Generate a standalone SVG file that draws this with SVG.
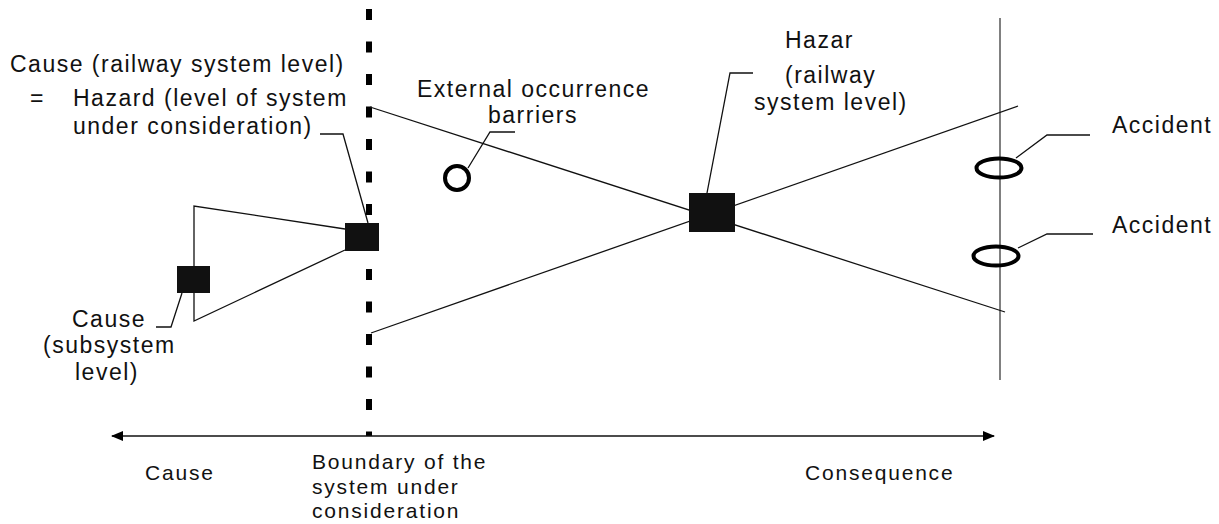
<svg xmlns="http://www.w3.org/2000/svg" width="1219" height="524" viewBox="0 0 1219 524">
<style>
.t{font-family:"Liberation Sans",Arial,sans-serif;font-size:23px;letter-spacing:1.5px;fill:#111}
.b{font-family:"Liberation Sans",Arial,sans-serif;font-size:21px;letter-spacing:1.8px;fill:#111}
.ln{stroke:#111;stroke-width:1.3;fill:none}
.node{fill:#111}
.ring{fill:none;stroke:#000;stroke-width:4}
</style>
<defs>
<marker id="ah" viewBox="0 0 12 10" refX="11" refY="5" markerWidth="12" markerHeight="10" markerUnits="userSpaceOnUse" orient="auto-start-reverse">
<path d="M0,0 L12,5 L0,10 Z" fill="#000"/>
</marker>
</defs>
<g id="boundary">
<line x1="369" y1="9" x2="369" y2="436" stroke="#000" stroke-width="6" stroke-dasharray="11 21.5"/>
</g>
<g id="consequence-axis">
<line x1="1000" y1="18" x2="1000" y2="380" stroke="#808080" stroke-width="2"/>
</g>
<g id="connectors">
<line class="ln" x1="112" y1="436" x2="994" y2="436" marker-start="url(#ah)" marker-end="url(#ah)"/>
<line class="ln" x1="371" y1="333" x2="1018" y2="106"/>
<line class="ln" x1="370" y1="107" x2="1005" y2="312"/>
<polyline class="ln" points="345,229 194,206 194,321 345,250"/>
<polyline class="ln" points="320,134 343,134 368,223"/>
<polyline class="ln" points="182,293 171,327 156,327"/>
<polyline class="ln" points="707,193 730,73 753,73"/>
<polyline class="ln" points="468,168 490,132 515,132"/>
<polyline class="ln" points="1016,158 1047,135 1090,135"/>
<polyline class="ln" points="1018,248 1047,234 1093,234"/>
</g>
<g id="hazard-system">
<rect class="node" x="345" y="223" width="34" height="28"/>
<text class="t" x="10" y="72">Cause (railway system level)</text>
<text class="t" x="30" y="106">=</text>
<text class="t" x="73" y="106">Hazard (level of system</text>
<text class="t" x="73" y="134">under consideration)</text>
</g>
<g id="cause-subsystem">
<rect class="node" x="177" y="266" width="33" height="27"/>
<text class="t" x="72" y="327">Cause</text>
<text class="t" x="43" y="353">(subsystem</text>
<text class="t" x="75" y="380">level)</text>
</g>
<g id="hazard-railway">
<rect class="node" x="689" y="193" width="46" height="39"/>
<text class="t" x="785" y="48">Hazar</text>
<text class="t" x="785" y="83">(railway</text>
<text class="t" x="754" y="110">system level)</text>
</g>
<g id="barrier">
<circle class="ring" cx="457" cy="178" r="12"/>
<text class="t" x="417" y="97">External occurrence</text>
<text class="t" x="488" y="123">barriers</text>
</g>
<g id="accident-1">
<ellipse class="ring" cx="999" cy="168" rx="22.5" ry="9.5"/>
<text class="t" x="1112" y="133">Accident</text>
</g>
<g id="accident-2">
<ellipse class="ring" cx="996" cy="256" rx="22.5" ry="9.5"/>
<text class="t" x="1112" y="233">Accident</text>
</g>
<g id="axis-labels">
<text class="b" x="145" y="480">Cause</text>
<text class="b" x="312" y="469">Boundary of the</text>
<text class="b" x="312" y="494">system under</text>
<text class="b" x="312" y="518">consideration</text>
<text class="b" x="805" y="480">Consequence</text>
</g>
</svg>
